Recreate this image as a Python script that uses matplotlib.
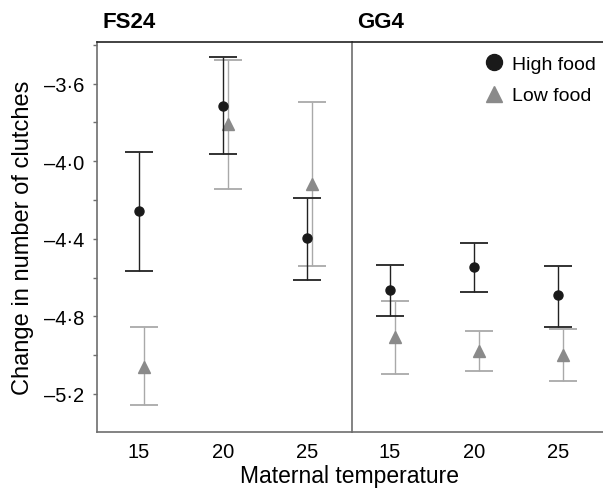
import matplotlib
matplotlib.use("Agg")
import matplotlib.pyplot as plt
import numpy as np
from matplotlib.lines import Line2D

plt.rcParams['font.family'] = ['Liberation Sans', 'DejaVu Sans']

temps = [15, 20, 25]
panels = ["FS24", "GG4"]

# FS24
fs_high_mean = [-4.256, -3.713, -4.395]
fs_high_upper = [-3.951, -3.460, -4.189]
fs_high_lower = [-4.565, -3.961, -4.610]
fs_low_mean = [-5.060, -3.810, -4.116]
fs_low_upper = [-4.854, -3.476, -3.693]
fs_low_lower = [-5.257, -4.142, -4.540]

# GG4
gg_high_mean = [-4.663, -4.544, -4.689]
gg_high_upper = [-4.534, -4.420, -4.539]
gg_high_lower = [-4.800, -4.674, -4.854]
gg_low_mean = [-4.906, -4.978, -4.999]
gg_low_upper = [-4.720, -4.874, -4.864]
gg_low_lower = [-5.097, -5.081, -5.133]

ytick_vals = [-3.6, -4.0, -4.4, -4.8, -5.2]
ytick_labels = ["–3·6", "–4·0", "–4·4", "–4·8", "–5·2"]
yminor_vals = [-3.4, -3.8, -4.2, -4.6, -5.0]
xtick_labels = ["15", "20", "25"]

fig = plt.figure(figsize=(6.03, 4.89), dpi=100)
L, R, B, T = 97/603, 1.0, 1-433/489, 1-43/489
split = 352/603
ax1 = fig.add_axes([L, B, split-L, T-B])
ax2 = fig.add_axes([split, B, R-split, T-B], sharey=ax1)

HIGH_M = '#1a1a1a'
HIGH_E = '#222222'
LOW_M = '#8a8a8a'
LOW_E = '#a9a9a9'
SPINE = '#6e6e6e'

def draw(ax, hm, hu, hl, lm, lu, ll, xlim):
    x = np.array(temps, dtype=float)
    hm, hu, hl = map(np.array, (hm, hu, hl))
    lm, lu, ll = map(np.array, (lm, lu, ll))
    ax.errorbar(x + 0.3, lm, yerr=[lm - ll, lu - lm], fmt='^', color=LOW_M,
                ecolor=LOW_E, elinewidth=1.0, capsize=10, capthick=1.3,
                markersize=9, zorder=2)
    ax.errorbar(x, hm, yerr=[hm - hl, hu - hm], fmt='o', color=HIGH_M,
                ecolor=HIGH_E, elinewidth=1.0, capsize=10, capthick=1.3,
                markersize=6.5, zorder=3)
    ax.set_xlim(*xlim)
    ax.set_xticks(temps)
    ax.set_xticklabels(xtick_labels, fontsize=14.5)
    ax.tick_params(axis='x', length=0, pad=7)
    ax.spines['right'].set_visible(False)
    ax.spines['top'].set_color('#222222')
    ax.spines['bottom'].set_color(SPINE)
    ax.spines['left'].set_color(SPINE)
    for s in ax.spines.values():
        s.set_linewidth(1.2)

draw(ax1, fs_high_mean, fs_high_upper, fs_high_lower,
     fs_low_mean, fs_low_upper, fs_low_lower, (12.5, 27.7))
draw(ax2, gg_high_mean, gg_high_upper, gg_high_lower,
     gg_low_mean, gg_low_upper, gg_low_lower, (12.75, 27.7))

ax1.set_ylim(-5.396, -3.385)
ax1.set_yticks(ytick_vals)
ax1.set_yticklabels(ytick_labels, fontsize=14.5)
ax1.set_yticks(yminor_vals, minor=True)
ax1.tick_params(axis='y', which='both', direction='out', length=3,
                width=1, color=SPINE, pad=6)
ax2.tick_params(axis='y', which='both', left=False, labelleft=False)

ax1.set_ylabel("Change in number of clutches", fontsize=17, labelpad=7)

for ax, name in zip((ax1, ax2), panels):
    ax.annotate(name, xy=(0, 1), xycoords='axes fraction',
                xytext=(4, 7), textcoords='offset points',
                fontsize=16, fontweight='bold', ha='left', va='bottom')

fig.text(350/603, 1-483/489, "Maternal temperature", fontsize=16.5,
         ha='center', va='baseline')

handles = [Line2D([], [], marker='o', linestyle='none', color=HIGH_M, markersize=11.5),
           Line2D([], [], marker='^', linestyle='none', color=LOW_M, markersize=12)]
ax2.legend(handles, ["High food", "Low food"], loc='upper right',
           bbox_to_anchor=(1.024, 1.0), frameon=False, fontsize=14,
           handletextpad=0.3, handlelength=1.2, labelspacing=0.7,
           borderaxespad=0.3)

fig.savefig("out.png", dpi=100)
